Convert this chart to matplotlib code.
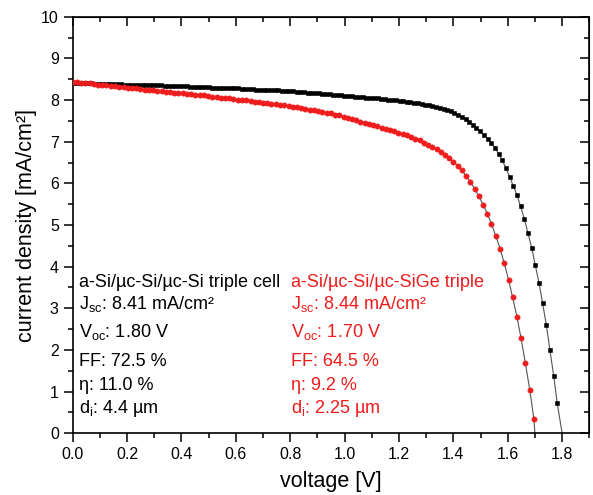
import matplotlib
matplotlib.use("Agg")
import matplotlib.pyplot as plt
from matplotlib.ticker import MultipleLocator

# === Données ===
# a-Si/uc-Si/uc-Si triple cell (carrés noirs)
v_si = [0.000, 0.014, 0.027, 0.041, 0.054, 0.068, 0.081, 0.095, 0.108, 0.122,
        0.135, 0.149, 0.162, 0.176, 0.189, 0.203, 0.216, 0.230, 0.243, 0.257,
        0.270, 0.284, 0.297, 0.311, 0.324, 0.338, 0.351, 0.365, 0.378, 0.392,
        0.405, 0.419, 0.432, 0.446, 0.459, 0.473, 0.486, 0.500, 0.513, 0.527,
        0.540, 0.554, 0.567, 0.581, 0.594, 0.608, 0.621, 0.635, 0.648, 0.662,
        0.675, 0.689, 0.702, 0.716, 0.729, 0.743, 0.756, 0.770, 0.783, 0.797,
        0.810, 0.824, 0.837, 0.851, 0.864, 0.878, 0.891, 0.905, 0.918, 0.932,
        0.945, 0.959, 0.972, 0.986, 0.999, 1.013, 1.026, 1.040, 1.053, 1.067,
        1.080, 1.094, 1.107, 1.121, 1.134, 1.148, 1.161, 1.175, 1.188, 1.202,
        1.215, 1.229, 1.242, 1.256, 1.269, 1.283, 1.296, 1.310, 1.323, 1.337,
        1.350, 1.364, 1.377, 1.391, 1.404, 1.418, 1.431, 1.445, 1.458, 1.472,
        1.485, 1.499, 1.512, 1.526, 1.539, 1.553, 1.566, 1.580, 1.593, 1.607,
        1.620, 1.634, 1.647, 1.661, 1.674, 1.688, 1.701, 1.715, 1.728, 1.742,
        1.755, 1.769, 1.782]
j_si = [8.41, 8.41, 8.40, 8.40, 8.40, 8.40, 8.39, 8.39, 8.39, 8.39,
        8.38, 8.38, 8.38, 8.38, 8.37, 8.37, 8.37, 8.37, 8.36, 8.36,
        8.36, 8.36, 8.35, 8.35, 8.35, 8.34, 8.34, 8.34, 8.34, 8.33,
        8.33, 8.33, 8.32, 8.32, 8.32, 8.32, 8.31, 8.31, 8.30, 8.30,
        8.30, 8.29, 8.29, 8.28, 8.28, 8.28, 8.27, 8.27, 8.26, 8.26,
        8.25, 8.25, 8.24, 8.24, 8.24, 8.23, 8.23, 8.22, 8.22, 8.21,
        8.21, 8.20, 8.20, 8.19, 8.18, 8.18, 8.17, 8.16, 8.15, 8.14,
        8.14, 8.13, 8.12, 8.11, 8.10, 8.10, 8.09, 8.08, 8.07, 8.07,
        8.06, 8.05, 8.05, 8.04, 8.03, 8.02, 8.01, 8.00, 7.99, 7.98,
        7.97, 7.96, 7.95, 7.94, 7.93, 7.91, 7.89, 7.87, 7.85, 7.83,
        7.81, 7.79, 7.76, 7.73, 7.70, 7.65, 7.60, 7.55, 7.48, 7.41,
        7.33, 7.26, 7.17, 7.07, 6.97, 6.85, 6.71, 6.55, 6.37, 6.16,
        5.94, 5.72, 5.45, 5.15, 4.81, 4.46, 4.04, 3.61, 3.13, 2.60,
        2.00, 1.38, 0.72]
voc_si = 1.80

# a-Si/uc-Si/uc-SiGe triple (ronds rouges)
v_sige = [0.000, 0.016, 0.031, 0.047, 0.062, 0.078, 0.093, 0.109, 0.124, 0.140,
          0.156, 0.171, 0.187, 0.202, 0.218, 0.233, 0.249, 0.265, 0.280, 0.296,
          0.311, 0.327, 0.342, 0.358, 0.373, 0.389, 0.405, 0.420, 0.436, 0.451,
          0.467, 0.482, 0.498, 0.513, 0.529, 0.545, 0.560, 0.576, 0.591, 0.607,
          0.622, 0.638, 0.654, 0.669, 0.685, 0.700, 0.716, 0.731, 0.747, 0.762,
          0.778, 0.794, 0.809, 0.825, 0.840, 0.856, 0.871, 0.887, 0.902, 0.918,
          0.934, 0.949, 0.965, 0.980, 0.996, 1.011, 1.027, 1.043, 1.058, 1.074,
          1.089, 1.105, 1.120, 1.136, 1.151, 1.167, 1.183, 1.198, 1.214, 1.229,
          1.245, 1.260, 1.276, 1.291, 1.307, 1.323, 1.338, 1.354, 1.369, 1.385,
          1.400, 1.416, 1.431, 1.447, 1.462, 1.478, 1.494, 1.509, 1.525, 1.540,
          1.556, 1.572, 1.587, 1.603, 1.618, 1.634, 1.649, 1.665, 1.681, 1.696]
j_sige = [8.44, 8.43, 8.42, 8.41, 8.40, 8.39, 8.37, 8.36, 8.35, 8.34,
          8.33, 8.32, 8.31, 8.30, 8.29, 8.28, 8.27, 8.25, 8.24, 8.23,
          8.22, 8.21, 8.20, 8.19, 8.18, 8.17, 8.16, 8.15, 8.14, 8.13,
          8.12, 8.11, 8.10, 8.08, 8.07, 8.06, 8.05, 8.04, 8.03, 8.01,
          8.00, 7.99, 7.97, 7.96, 7.95, 7.94, 7.92, 7.91, 7.90, 7.88,
          7.87, 7.86, 7.84, 7.83, 7.81, 7.79, 7.77, 7.76, 7.74, 7.72,
          7.70, 7.68, 7.65, 7.63, 7.60, 7.57, 7.54, 7.51, 7.48, 7.45,
          7.42, 7.39, 7.37, 7.34, 7.31, 7.28, 7.25, 7.22, 7.18, 7.15,
          7.11, 7.07, 7.03, 6.98, 6.93, 6.88, 6.82, 6.75, 6.68, 6.61,
          6.52, 6.42, 6.31, 6.18, 6.04, 5.87, 5.69, 5.49, 5.27, 5.02,
          4.74, 4.43, 4.08, 3.69, 3.26, 2.79, 2.28, 1.68, 1.04, 0.35]
voc_sige = 1.70

lines_si = ["a-Si/µc-Si/µc-Si triple cell",
            r"J$_{\mathrm{sc}}$: 8.41 mA/cm²",
            r"V$_{\mathrm{oc}}$: 1.80 V",
            "FF: 72.5 %",
            "η: 11.0 %",
            r"d$_{\mathrm{i}}$: 4.4 µm"]
lines_sige = ["a-Si/µc-Si/µc-SiGe triple",
              r"J$_{\mathrm{sc}}$: 8.44 mA/cm²",
              r"V$_{\mathrm{oc}}$: 1.70 V",
              "FF: 64.5 %",
              "η: 9.2 %",
              r"d$_{\mathrm{i}}$: 2.25 µm"]
text_y = [3.52, 2.98, 2.30, 1.61, 1.04, 0.49]

# === Style ===
plt.rcParams['font.family'] = ['Liberation Sans', 'DejaVu Sans']
plt.rcParams['mathtext.fontset'] = 'custom'
plt.rcParams['mathtext.rm'] = 'Liberation Sans'
plt.rcParams['mathtext.it'] = 'Liberation Sans:italic'

red = '#ee1c1c'

fig = plt.figure(figsize=(5.93, 4.95), dpi=100)
ax = fig.add_axes([0.1226, 0.1246, 0.8712, 0.8417])

# lignes fines + marqueurs
ax.plot(v_si + [voc_si], j_si + [0], color='#555555', lw=0.8, zorder=2)
ax.plot(v_si, j_si, ls='none', marker='s', ms=3.2, color='black', mew=0.4, zorder=3)
ax.plot(v_sige + [voc_sige], j_sige + [0], color='#555555', lw=0.8, zorder=2)
ax.plot(v_sige, j_sige, ls='none', marker='o', ms=3.8, color=red, mew=0.4, zorder=4)

ax.set_xlim(0, 1.9)
ax.set_ylim(0, 10)
ax.xaxis.set_major_locator(MultipleLocator(0.2))
ax.xaxis.set_minor_locator(MultipleLocator(0.1))
ax.yaxis.set_major_locator(MultipleLocator(1))
ax.yaxis.set_minor_locator(MultipleLocator(0.5))
ax.tick_params(which='major', direction='out', length=6.5, width=1.1, labelsize=11.5, pad=3.5)
ax.tick_params(which='minor', direction='out', length=3.5, width=1.1)
for s in ax.spines.values():
    s.set_linewidth(1.2)

# ticks intérieurs en haut et à droite
top = ax.secondary_xaxis('top')
top.xaxis.set_major_locator(MultipleLocator(0.2))
top.xaxis.set_minor_locator(MultipleLocator(0.1))
top.tick_params(which='major', direction='in', length=6.5, width=1.1, labeltop=False)
top.tick_params(which='minor', direction='in', length=3.5, width=1.1)
right = ax.secondary_yaxis('right')
right.yaxis.set_major_locator(MultipleLocator(1))
right.yaxis.set_minor_locator(MultipleLocator(0.5))
right.tick_params(which='major', direction='in', length=6.5, width=1.1, labelright=False)
right.tick_params(which='minor', direction='in', length=3.5, width=1.1)

ax.set_xlabel("voltage [V]", fontsize=15.5, labelpad=6)
ax.set_ylabel("current density [mA/cm²]", fontsize=15.5, labelpad=3)

for t, y in zip(lines_si, text_y):
    ax.text(0.023, y, t, fontsize=13, color='black', va='baseline', ha='left')
for t, y in zip(lines_sige, text_y):
    ax.text(0.803, y, t, fontsize=13, color=red, va='baseline', ha='left')

fig.savefig("out.png", dpi=100)
